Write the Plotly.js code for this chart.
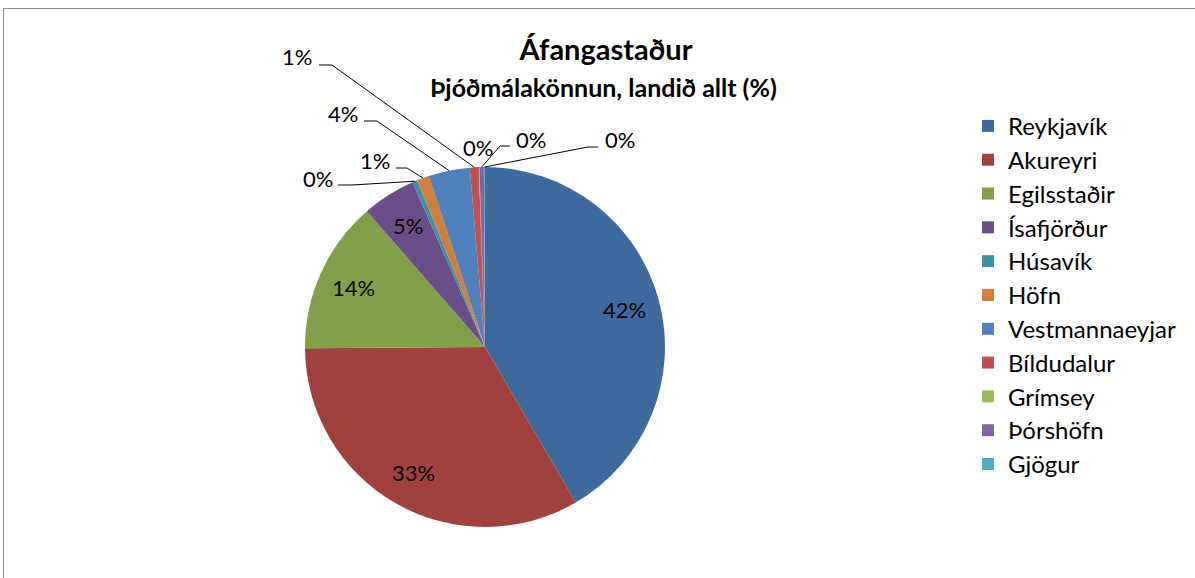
<!DOCTYPE html>
<html>
<head>
<meta charset="utf-8">
<script src="https://cdn.plot.ly/plotly-3.0.1.min.js"></script>
<style>html,body{margin:0;padding:0;background:#fff;}#chart{width:1195px;height:578px;}</style>
</head>
<body>
<div id="chart"></div>
<script>
// ---- data ----
const places = ["Reykjavík","Akureyri","Egilsstaðir","Ísafjörður","Húsavík","Höfn","Vestmannaeyjar","Bíldudalur","Grímsey","Þórshöfn","Gjögur"];
const shares = [41.6, 33.3, 13.7, 4.8, 0.45, 1.1, 3.7, 0.8, 0.05, 0.4, 0.1];
const sliceColors = ["#3F6A9E","#A0413E","#82A04A","#6A4E8A","#3A91A8","#D27F3A","#4F81BD","#C0504D","#9BBB59","#8064A2","#4BACC6"];
const chartTitle = "Áfangastaður";
const chartSubtitle = "Þjóðmálakönnun, landið allt (%)";

// ---- layout helpers ----
const W = 1195, H = 578;
const FONT = "Lato, 'Open Sans', sans-serif";
const cxPx = 485, cyPx = 347, R = 180;
const INSIDE_R = 0.8;
const px = x => x / W;
const py = y => 1 - y / H;

// external label placement (pixels): label centre, leader start, elbow
const outside = {
  "Húsavík":    {lab:[318,179], start:[338,185], elbow:[352,185]},
  "Höfn":       {lab:[375,161], start:[396,168], elbow:[407,168]},
  "Vestmannaeyjar": {lab:[343,113], start:[364,121], elbow:[377,121]},
  "Bíldudalur": {lab:[297,57],  start:[319,65],  elbow:[332,65]},
  "Grímsey":    {lab:[478,148]},
  "Þórshöfn":   {lab:[531,139], start:[510,146], elbow:[500,146]},
  "Gjögur":     {lab:[620,140], start:[598,147], elbow:[588,147]}
};

const total = shares.reduce((a,b)=>a+b,0);
const pctText = shares.map(v => Math.round(v/total*100) + "%");

// mid angle of each slice (clockwise from 12 o'clock)
let cum = 0;
const midAngles = shares.map(v => {
  const mid = (cum + v/2) / total * 2*Math.PI;
  cum += v;
  return mid;
});
const polar = (a, r) => [cxPx + r*Math.sin(a), cyPx - r*Math.cos(a)];

const annotations = [];
const shapes = [];
places.forEach((p, i) => {
  const o = outside[p];
  const lab = o ? o.lab : polar(midAngles[i], R*INSIDE_R);
  annotations.push({
    xref:"paper", yref:"paper", x:px(lab[0]), y:py(lab[1]),
    xanchor:"center", yanchor:"middle", showarrow:false,
    text:pctText[i], font:{family:FONT, size:22, color:"#000"}
  });
  if (o && o.start) {
    const a = polar(midAngles[i], R);
    shapes.push({
      type:"path", xref:"paper", yref:"paper",
      path:`M${px(o.start[0])},${py(o.start[1])} L${px(o.elbow[0])},${py(o.elbow[1])} L${px(a[0])},${py(a[1])}`,
      line:{color:"#000", width:1}
    });
  }
});

// subtitle
annotations.push({
  xref:"paper", yref:"paper", x:px(603), y:py(87), xanchor:"center", yanchor:"middle",
  showarrow:false, text:"<b>"+chartSubtitle+"</b>",
  font:{family:FONT, size:25, color:"#000"}
});

// chart area border
shapes.push({type:"rect", xref:"paper", yref:"paper",
  x0:px(3.5), x1:1.2, y0:-0.2, y1:py(8.5),
  line:{color:"#878787", width:1}, fillcolor:"rgba(0,0,0,0)"});

const trace = {
  type:"pie",
  labels: places.map(l => `<span style="font-size:24px">${l}</span>`),
  values: shares,
  sort:false,
  direction:"clockwise",
  rotation:0,
  marker:{colors:sliceColors, line:{width:0}},
  textinfo:"none",
  hoverinfo:"label+percent",
  domain:{x:[px(cxPx-R), px(cxPx+R)], y:[py(cyPx+R), py(cyPx-R)]}
};

const layout = {
  width:W, height:H,
  margin:{l:0, r:0, t:0, b:0},
  paper_bgcolor:"#fff",
  font:{family:FONT, color:"#000"},
  title:{text:"<b>"+chartTitle+"</b>", x:px(606), xanchor:"center", y:py(50), yanchor:"middle",
         font:{family:FONT, size:29, color:"#000"}},
  showlegend:true,
  legend:{x:px(968), xanchor:"left", y:py(104), yanchor:"top",
          font:{family:FONT, size:23.7, color:"#000"}, traceorder:"normal", bgcolor:"rgba(0,0,0,0)"},
  annotations, shapes
};

Plotly.newPlot("chart", [trace], layout, {displayModeBar:false, staticPlot:true});
</script>
</body>
</html>
